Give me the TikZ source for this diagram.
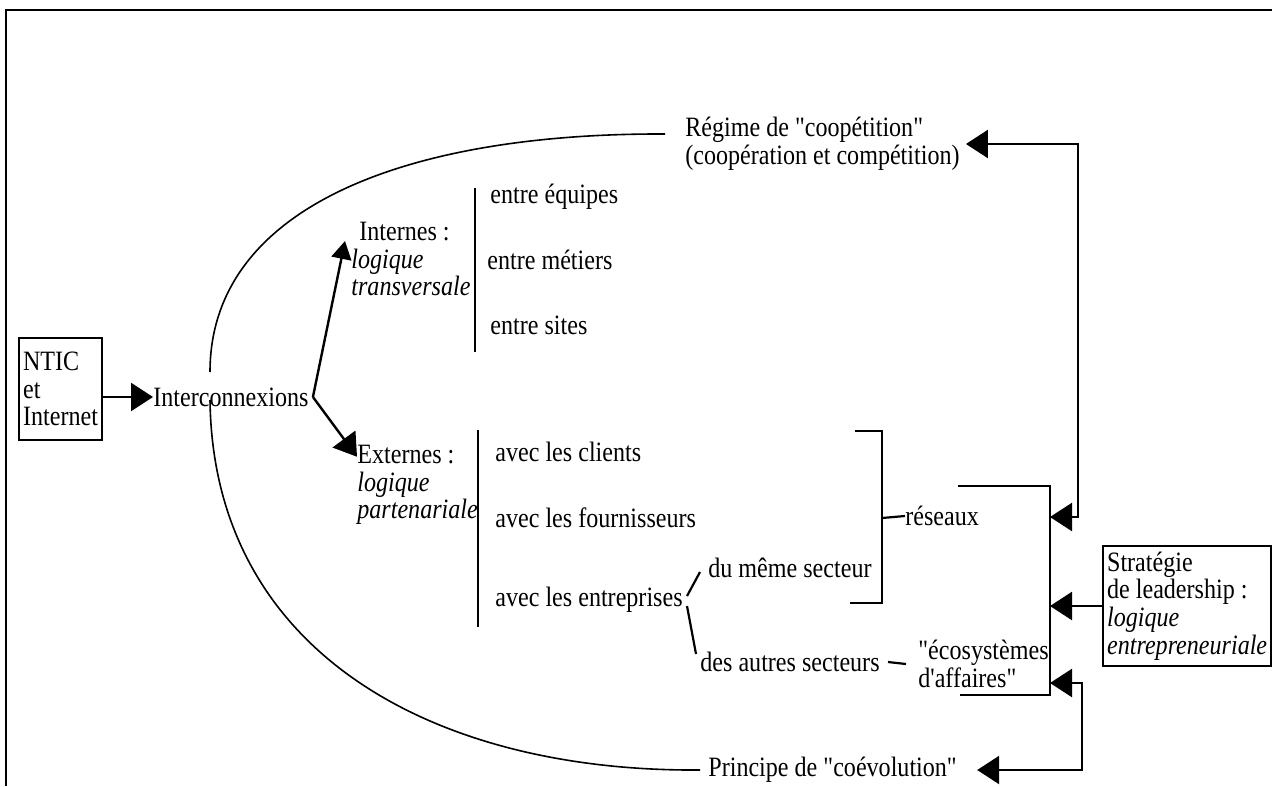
\documentclass[tikz,border=0pt]{standalone}
\usepackage{fontspec}
\setmainfont{Liberation Serif}[FakeStretch=0.86,Ligatures=TeXOff]
\usetikzlibrary{arrows.meta}

\begin{document}
\begin{tikzpicture}[x=0.5pt,y=-0.5pt,
    txt/.style={inner sep=0pt,anchor=west,align=left,font=\fontsize{14}{13.8}\selectfont},
    boxed/.style={txt,draw,line width=1.1pt,inner xsep=2pt,inner ysep=3pt},
    bar/.style={line width=1.1pt},
    curve/.style={line width=0.8pt},
    arr/.style={line width=1.2pt,-{Triangle[length=11pt,width=14pt]}},
    dblarr/.style={line width=1.2pt,{Triangle[length=11pt,width=14pt]}-{Triangle[length=11pt,width=14pt]}}]
  \useasboundingbox (0,0) rectangle (1272,786);
  \draw[line width=1.2pt] (6,786) -- (6,10) -- (1272,10);

  \node[boxed,inner ysep=7pt] (ntic) at (18,389) {NTIC\\et\\Internet};
  \node[txt] (inter) at (153,397) {Interconnexions};
  \draw[arr] (ntic.east |- inter.west) -- (inter.west);

  \coordinate (fork) at ([xshift=2pt]inter.east);
  \node[txt] (intern) at (351,259) {\hspace{4pt}Internes :\\\textit{logique}\\\textit{transversale}};
  \node[txt] (extern) at (357,485) {Externes :\\\textit{logique}\\\textit{partenariale}};
  \draw[arr,-{Triangle[length=9pt,width=10pt]}] (fork) -- ([xshift=-3pt,yshift=9pt]intern.west);
  \draw[arr] (fork) -- (extern.155);

  \draw[bar] (475,188) -- (475,352);
  \node[txt] (equipes) at (490,197) {entre équipes};
  \node[txt] (metiers) at (487,260) {entre métiers};
  \node[txt] (sites) at (490,325) {entre sites};

  \draw[bar] (478,430) -- (478,627);
  \node[txt] (clients) at (495,452) {avec les clients};
  \node[txt] (fourn) at (495,518) {avec les fournisseurs};
  \node[txt] (entrep) at (495,600) {avec les entreprises};

  \node[txt] (meme) at (708,568) {du même secteur};
  \node[txt] (autres) at (700,662) {des autres secteurs};
  \node[txt] (ecosys) at (918,664) {"écosystèmes\\d'affaires"};
  \draw[bar] ([xshift=2pt,yshift=2pt]entrep.east) -- ([xshift=-4pt,yshift=-2pt]meme.west);
  \draw[bar] ([xshift=2pt,yshift=-3pt]entrep.east) -- ([xshift=-2pt,yshift=4pt]autres.west);
  \draw[bar] ([xshift=4pt]autres.east) -- ([xshift=-6pt]ecosys.west);

  \node[txt] (reseaux) at (905,516) {réseaux};
  \draw[bar] (855,431) -- (882,431) -- (882,603) -- (850,603);
  \draw[bar] (882,518) -- (reseaux.west);
  \draw[bar] (958,486) -- (1050,486) -- (1050,695) -- (960,695);

  \node[txt] (regime) at (685,144) {Régime de "coopétition"\\(coopération et compétition)};
  \node[txt] (principe) at (708,770) {Principe de "coévolution"};
  \node[boxed] (strat) at (1102,606) {Stratégie\\de leadership :\\\textit{logique}\\\textit{entrepreneuriale}};

  \draw[curve] (210,372) .. controls (210,210) and (400,133) .. ([xshift=-10pt,yshift=5pt]regime.west);
  \draw[curve] (210,400) .. controls (213,650) and (430,772) .. ([xshift=-4pt]principe.west);

  \coordinate (in1) at (1050,517);
  \coordinate (in3) at (1050,683);
  \draw[dblarr] ([xshift=3pt]regime.east) -| ([xshift=14pt]in1) -- (in1);
  \draw[arr] (strat.west) -- (strat.west -| in1);
  \draw[dblarr] ([xshift=10pt]principe.east) -| ([xshift=16pt]in3) -- (in3);
\end{tikzpicture}
\end{document}
